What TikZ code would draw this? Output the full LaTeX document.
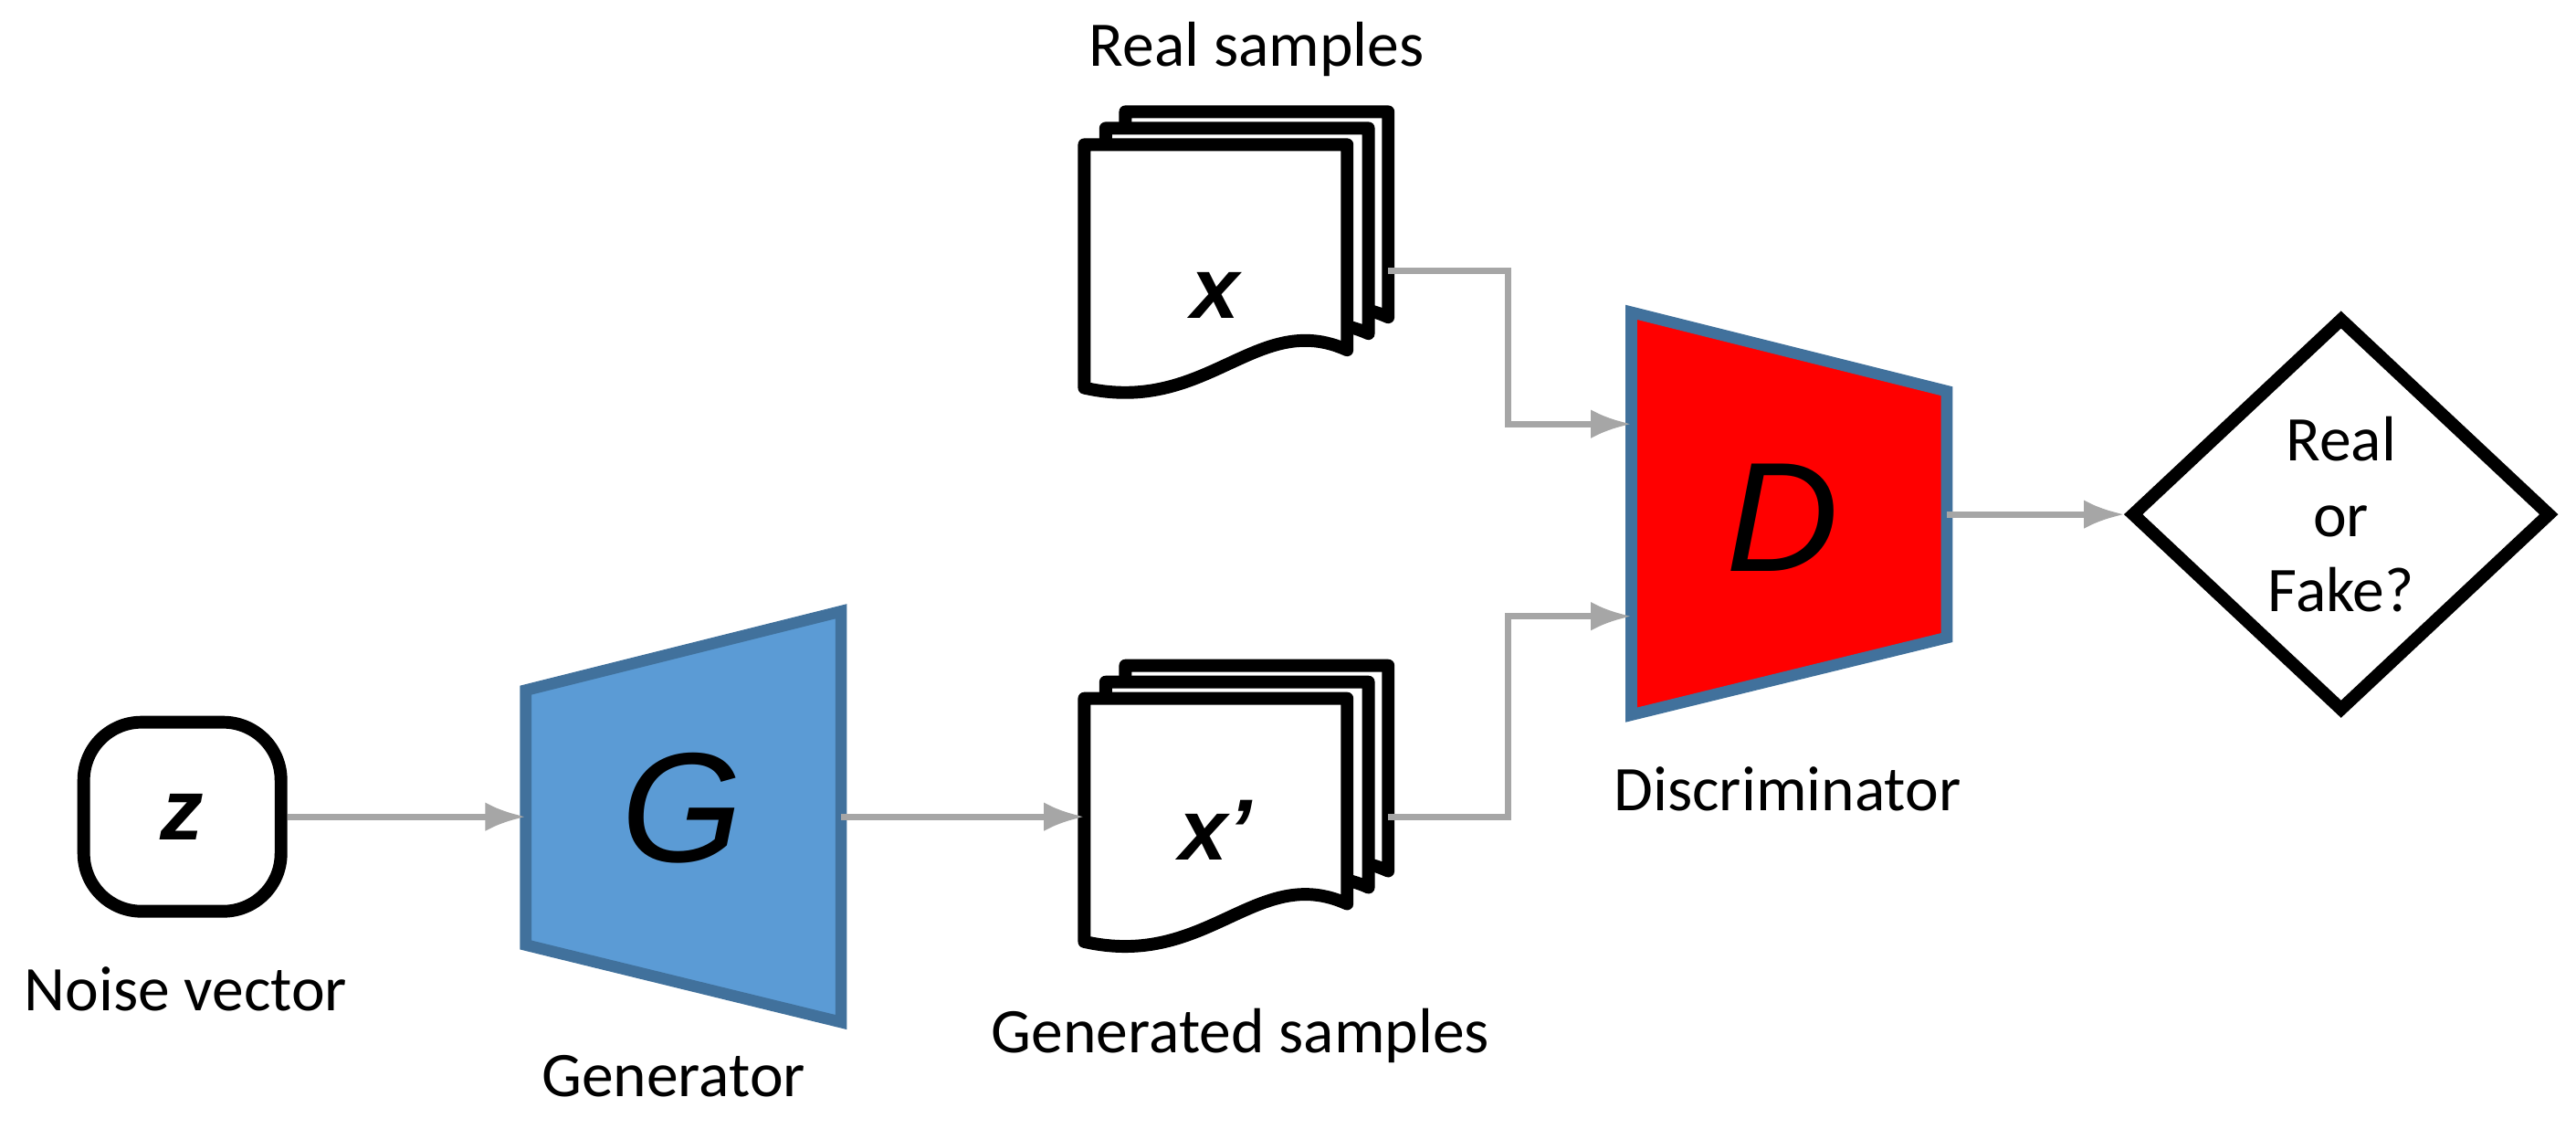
\documentclass[tikz,border=0pt]{standalone}
\usepackage{fontspec}
\setmainfont{Carlito}
\newfontfamily\arial{Liberation Sans}
\usetikzlibrary{shapes.geometric,arrows.meta}
\definecolor{gblue}{HTML}{5B9BD5}
\definecolor{bord}{HTML}{41719C}
\definecolor{arr}{HTML}{A6A6A6}
\newcommand{\mydoc}[2]{%
  \draw[line width=2.2pt,fill=white,line join=round] (#1,#2) -- ++(160,0) -- ++(0,125)
   .. controls (#1+105,#2+100) and (#1+75,#2+165) .. (#1,#2+148) -- cycle;}
\begin{document}
\begin{tikzpicture}[x=0.01cm,y=-0.01cm,
  lbl/.style={font=\fontsize{11}{13}\selectfont},
  sym/.style={font=\arial\bfseries\itshape\fontsize{15}{18}\selectfont},
  big/.style={font=\arial\itshape\fontsize{27}{30}\selectfont},
  con/.style={draw=arr,line width=1.1pt,-{Latex[length=7pt,width=5pt]}}]
\useasboundingbox (0,0) rectangle (1568,687);
% noise
\node[draw,line width=2.2pt,rounded corners=10pt,minimum width=1.2cm,minimum height=1.15cm,sym] (z) at (111,497) {z};
\node[lbl] (zl) at (113,602) {Noise vector};
% generator
\draw[bord,line width=2pt,fill=gblue] (320,420) -- (512,372) -- (512,622) -- (320,575) -- cycle;
\node[big] (G) at (415,492) {G};
\coordinate (Gl) at (320,497); \coordinate (Gr) at (512,497);
\node[lbl] (gl) at (410,655) {Generator};
% generated samples
\mydoc{685}{405}\mydoc{673}{415}\mydoc{660}{425}
\node[sym] (xp) at (740,505) {x’};
\coordinate (xpl) at (660,497); \coordinate (xpr) at (845,497);
\node[lbl] (xpL) at (755,630) {Generated samples};
% real samples
\mydoc{685}{68}\mydoc{673}{78}\mydoc{660}{88}
\node[sym] (x) at (740,180) {x};
\coordinate (xr) at (845,165);
\node[lbl] (xL) at (765,30) {Real samples};
% discriminator
\draw[bord,line width=2pt,fill=red] (993,190) -- (1185,238) -- (1185,388) -- (993,435) -- cycle;
\node[big] (D) at (1085,315) {D};
\coordinate (Da) at (993,258); \coordinate (Db) at (993,375); \coordinate (Dr) at (1185,313);
\node[lbl] (DL) at (1088,480) {Discriminator};
% decision
\node[draw,diamond,line width=2.2pt,minimum width=2.56cm,minimum height=2.4cm,lbl,align=center,inner sep=0pt] (dec) at (1425,313) {Real\\or\\Fake?};
% connectors
\draw[con] (z.east) -- (Gl);
\draw[con] (Gr) -- (xpl);
\draw[con] (xr) -| (918,258) -- (Da);
\draw[con] (xpr) -| (918,375) -- (Db);
\draw[con] (Dr) -- (dec.west);
\end{tikzpicture}
\end{document}
